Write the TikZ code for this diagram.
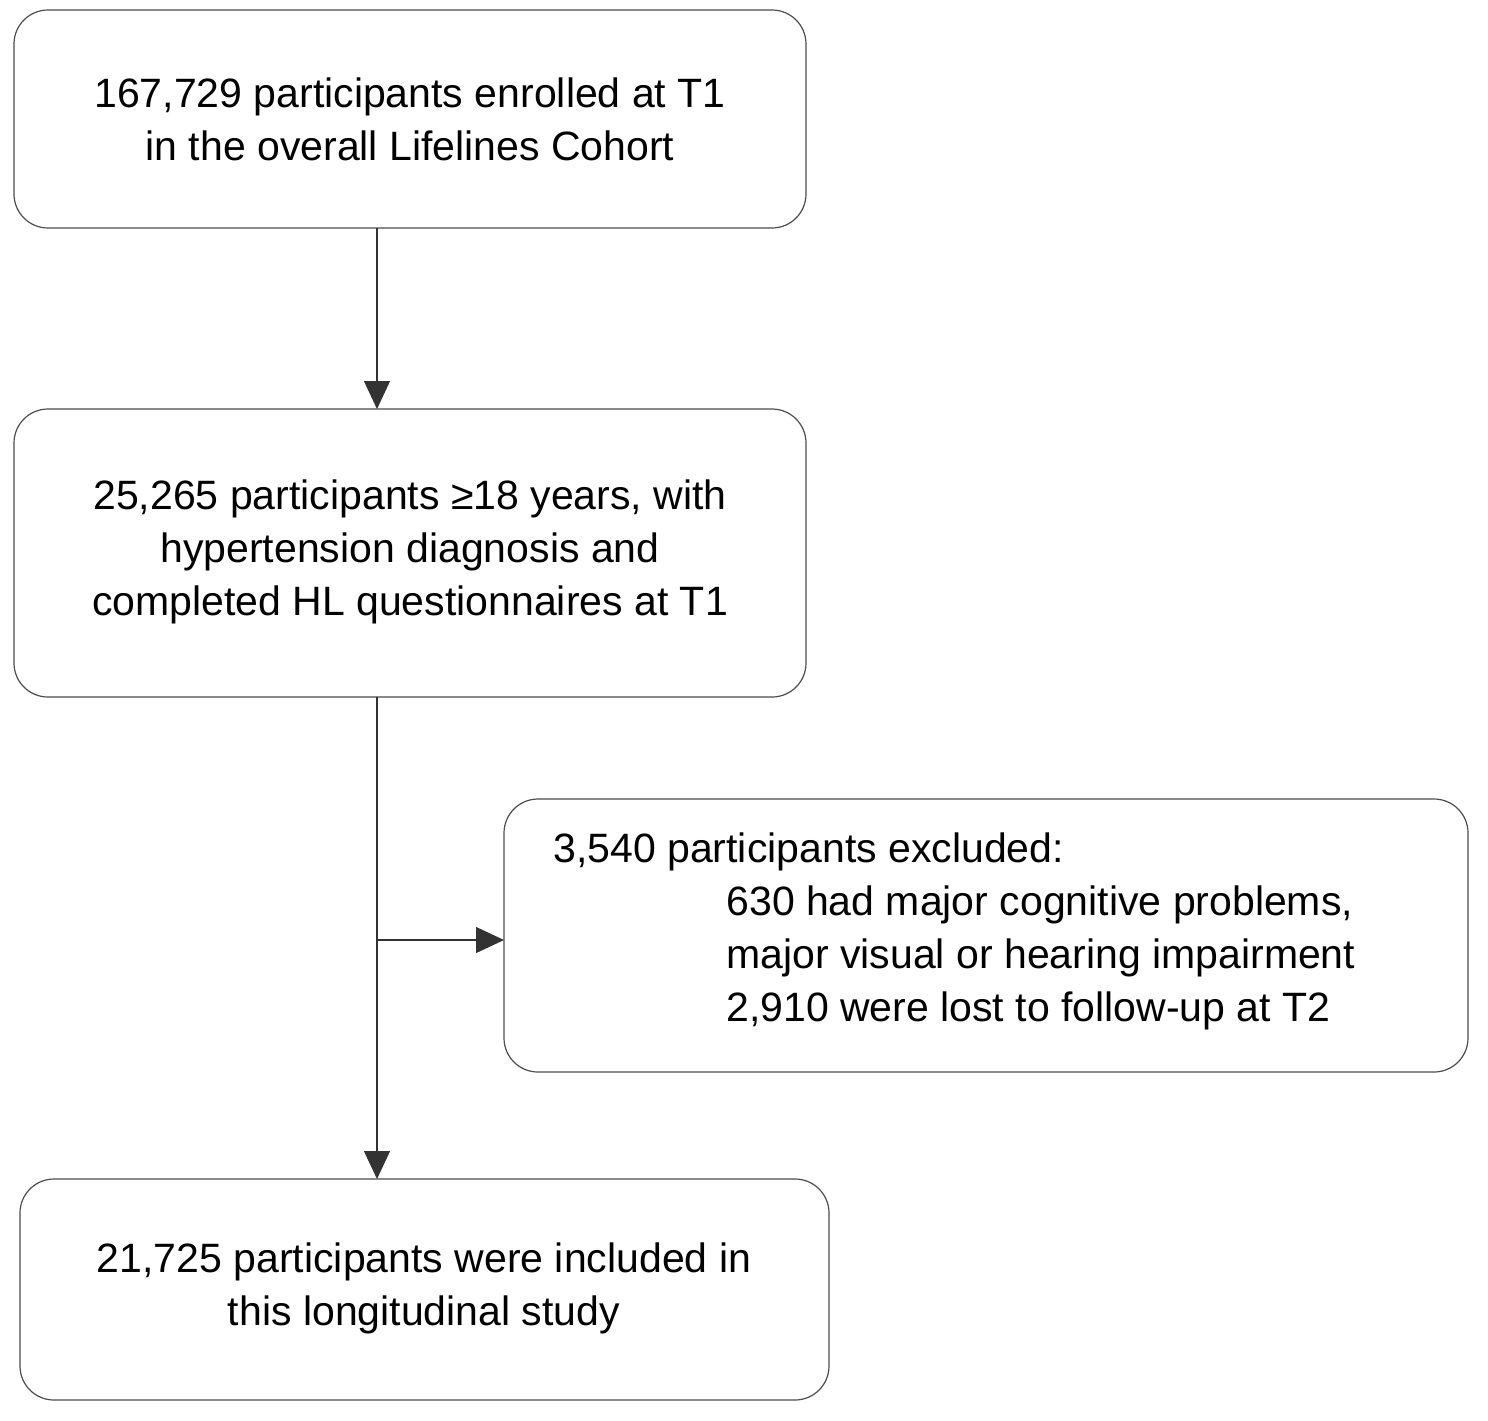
\documentclass[tikz,border=0pt]{standalone}
\usepackage{fontspec}
\setmainfont{Liberation Sans}
\usetikzlibrary{arrows.meta}
\begin{document}
\begin{tikzpicture}[x=0.5pt,y=-0.5pt,
  box/.style={draw=black!70,line width=0.6pt,rounded corners=17pt},
  txt/.style={font=\fontsize{20.5}{26.5}\selectfont,align=center,inner sep=0pt},
  conn/.style={draw=black!80,line width=0.6pt,-{Triangle[length=14pt,width=13pt]}}]
\useasboundingbox (0,0) rectangle (1488,1420);
\draw[box] (14,10) rectangle (806,228);
\draw[box] (14,409) rectangle (806,697);
\draw[box] (504,799) rectangle (1468,1072);
\draw[box] (20,1179) rectangle (829,1400);
\node[txt] (a) at (410,119) {167,729 participants enrolled at T1\\in the overall Lifelines Cohort};
\node[txt] (b) at (410,552) {25,265 participants ≥18 years, with\\hypertension diagnosis and\\completed HL questionnaires at T1};
\node[txt,align=left,anchor=north west] (c) at (553,832) {3,540 participants excluded:\\\hspace*{86.5pt}630 had major cognitive problems,\\\hspace*{86.5pt}major visual or hearing impairment\\\hspace*{86.5pt}2,910 were lost to follow-up at T2};
\node[txt] (d) at (424,1288) {21,725 participants were included in\\this longitudinal study};
\coordinate (t1) at (377,228);
\coordinate (t2) at (377,409);
\coordinate (t3) at (377,697);
\coordinate (t4) at (377,1179);
\coordinate (br) at (377,940);
\coordinate (ce) at (504,940);
\draw[conn] (t1) -- (t2);
\draw[conn] (t3) -- (t4);
\draw[conn] (br) -- (ce);
\end{tikzpicture}
\end{document}
